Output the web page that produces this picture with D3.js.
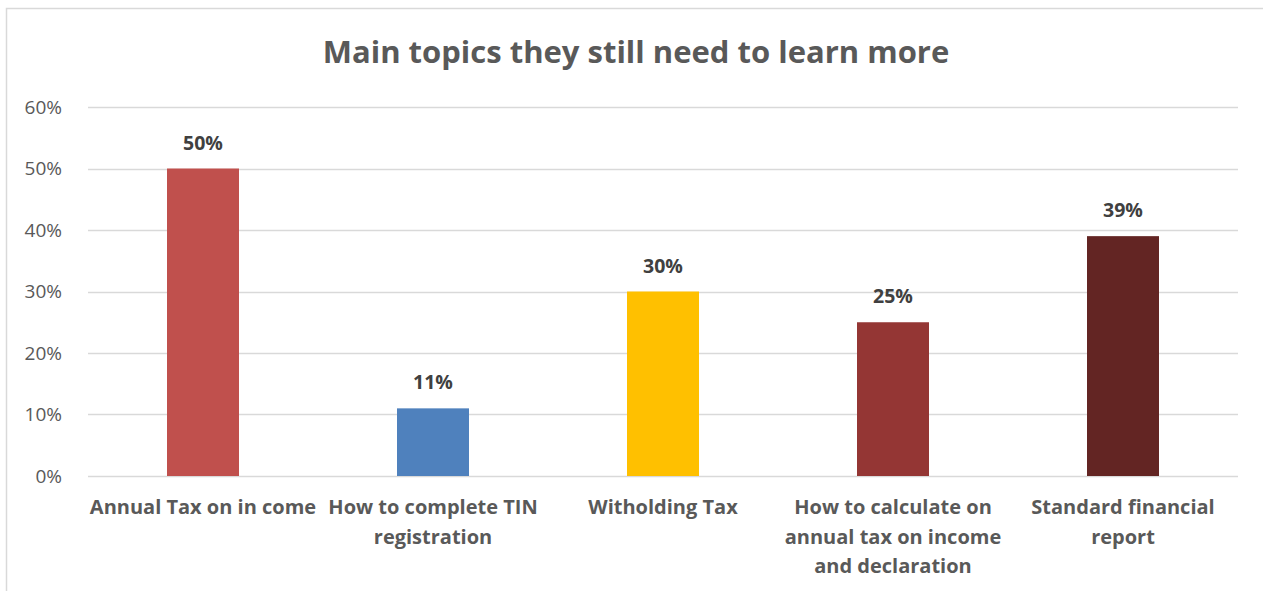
<!DOCTYPE html>
<html>
<head>
<meta charset="utf-8">
<script src="https://cdn.jsdelivr.net/npm/d3@7"></script>
<style>
  html, body { margin: 0; padding: 0; background: #fff; }
  svg { display: block; font-family: "Open Sans", Lato, sans-serif; }
</style>
</head>
<body>
<div id="chart"></div>
<script>
// 数据
const categories = [
  'Annual Tax on in come',
  'How to complete TIN registration',
  'Witholding Tax',
  'How to calculate on annual tax on income and declaration',
  'Standard financial report'
]
const values = [0.50, 0.11, 0.30, 0.25, 0.39]
const colors = ['#C0504D', '#4F81BD', '#FFC000', '#943634', '#632523']
const yTicks = [0, 0.1, 0.2, 0.3, 0.4, 0.5, 0.6]

const width = 1263
const height = 591
const margin = { top: 107, right: 25, bottom: 115, left: 88 }
const fontFamily = '"Open Sans", Lato, sans-serif'

const svg = d3.select('#chart').append('svg')
  .attr('width', width)
  .attr('height', height)

// 外框
svg.append('rect')
  .attr('x', 6.5).attr('y', 8.5)
  .attr('width', width + 20).attr('height', height + 20)
  .attr('fill', '#fff')
  .attr('stroke', '#d9d9d9')
  .attr('stroke-width', 1.5)

svg.append('text')
  .attr('x', 636).attr('y', 63)
  .attr('text-anchor', 'middle')
  .attr('font-size', '31px')
  .attr('font-weight', 'bold')
  .attr('fill', '#595959')
  .text('Main topics they still need to learn more')

const x = d3.scaleBand()
  .domain(categories)
  .range([margin.left, width - margin.right])
  .paddingInner(0.687)
  .paddingOuter(0.3435)

const y = d3.scaleLinear()
  .domain([0, 0.6])
  .range([height - margin.bottom, margin.top])

// 网格线
svg.append('g')
  .selectAll('line')
  .data(yTicks)
  .join('line')
  .attr('x1', margin.left).attr('x2', width - margin.right)
  .attr('y1', d => Math.round(y(d)) + 0.5)
  .attr('y2', d => Math.round(y(d)) + 0.5)
  .attr('stroke', '#d9d9d9')
  .attr('stroke-width', 1.3)

// y轴
const yAxis = svg.append('g')
  .attr('transform', `translate(${margin.left - 23},0)`)
  .call(d3.axisLeft(y).tickValues(yTicks).tickFormat(d3.format('.0%')).tickSize(0))
yAxis.select('.domain').remove()
yAxis.selectAll('text')
  .attr('font-size', '19px')
  .attr('font-family', fontFamily)
  .attr('fill', '#595959')

// 柱子
svg.append('g')
  .selectAll('rect')
  .data(values)
  .join('rect')
  .attr('x', (d, i) => x(categories[i]))
  .attr('y', d => y(d))
  .attr('width', x.bandwidth())
  .attr('height', d => y(0) - y(d))
  .attr('fill', (d, i) => colors[i])

// 数值标签
svg.append('g')
  .selectAll('text')
  .data(values)
  .join('text')
  .attr('x', (d, i) => x(categories[i]) + x.bandwidth() / 2)
  .attr('y', d => y(d) - 19)
  .attr('text-anchor', 'middle')
  .attr('font-size', '19.5px')
  .attr('font-weight', 'bold')
  .attr('fill', '#404040')
  .text(d => d3.format('.0%')(d))

// x轴标签, 自动换行
const maxW = x.step()
const labels = svg.append('g')
  .selectAll('text')
  .data(categories)
  .join('text')
  .attr('x', d => x(d) + x.bandwidth() / 2)
  .attr('y', y(0) + 38)
  .attr('text-anchor', 'middle')
  .attr('font-size', '20px')
  .attr('font-weight', 'bold')
  .attr('fill', '#595959')

labels.each(function (d) {
  const text = d3.select(this)
  const cx = text.attr('x')
  const words = d.split(' ')
  let line = []
  let tspan = text.append('tspan').attr('x', cx).attr('dy', 0)
  words.forEach(w => {
    line.push(w)
    tspan.text(line.join(' '))
    if (tspan.node().getComputedTextLength() > maxW && line.length > 1) {
      line.pop()
      tspan.text(line.join(' '))
      line = [w]
      tspan = text.append('tspan').attr('x', cx).attr('dy', 29.5).text(w)
    }
  })
})
</script>
</body>
</html>
